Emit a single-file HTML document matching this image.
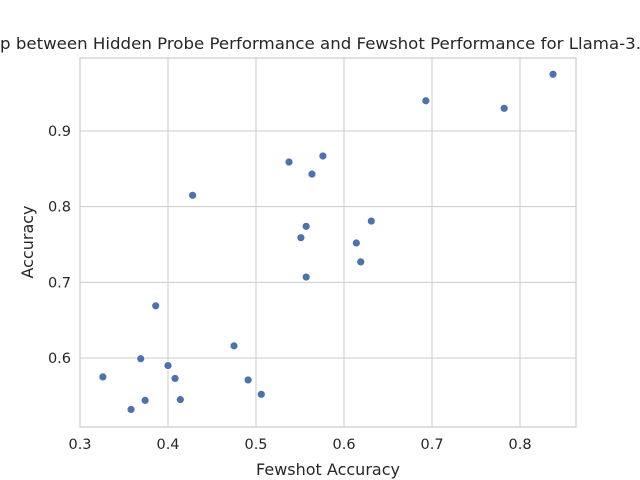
<!DOCTYPE html>
<html><head><meta charset="utf-8"><style>
html,body{margin:0;padding:0;background:#fff;}
svg{display:block;font-family:"DejaVu Sans","Liberation Sans",sans-serif;}
</style></head><body>
<svg id="chart" width="640" height="480">
<text x="0" y="49" font-size="16" fill="#262626" textLength="641" lengthAdjust="spacingAndGlyphs">p between Hidden Probe Performance and Fewshot Performance for Llama-3.</text>
<g id="grid"></g><g id="axes"></g><g id="points"></g>
<text x="328" y="475" font-size="16" text-anchor="middle" fill="#262626">Fewshot Accuracy</text>
<text transform="translate(33,242) rotate(-90)" font-size="16" text-anchor="middle" fill="#262626">Accuracy</text>
</svg>
<script>
const fewshot=[0.8375,0.693,0.782,0.576,0.5375,0.5636,0.428,0.631,0.557,0.551,0.614,0.619,0.557,0.386,0.475,0.369,0.400,0.326,0.408,0.491,0.506,0.374,0.414,0.358];
const accuracy=[0.975,0.940,0.930,0.867,0.859,0.843,0.815,0.781,0.774,0.759,0.752,0.727,0.707,0.669,0.616,0.599,0.590,0.575,0.573,0.571,0.552,0.544,0.545,0.532];
const xTicks=[0.3,0.4,0.5,0.6,0.7,0.8];
const yTicks=[0.6,0.7,0.8,0.9];
const L=80,R=576,T=58,B=427,xmin=0.3,xmax=0.8636,ymin=0.5088,ymax=0.9965;
const sx=v=>L+(v-xmin)/(xmax-xmin)*(R-L);
const sy=v=>B-(v-ymin)/(ymax-ymin)*(B-T);
const NS="http://www.w3.org/2000/svg";
function mk(tag,attrs,parent){const e=document.createElementNS(NS,tag);for(const k in attrs)e.setAttribute(k,attrs[k]);document.getElementById(parent).appendChild(e);return e;}
xTicks.forEach(t=>{
 const l=mk('line',{x1:sx(t),x2:sx(t),y1:T,y2:B,stroke:'#cccccc','stroke-width':1},'grid');
 
 
 const tx=mk('text',{x:sx(t),y:B+22,'font-size':14.5,'text-anchor':'middle',fill:'#262626'},'axes');
 tx.textContent=t.toFixed(1);
 
 
});
yTicks.forEach(t=>{
 const l=mk('line',{x1:L,x2:R,y1:sy(t),y2:sy(t),stroke:'#cccccc','stroke-width':1},'grid');
 
 
 const tx=mk('text',{x:L-9,y:sy(t)+5,'font-size':14.5,'text-anchor':'end',fill:'#262626'},'axes');
 tx.textContent=t.toFixed(1);
 
 
});
const frame=mk('rect',{x:L,y:T,width:R-L,height:B-T,fill:'none',stroke:'#cccccc','stroke-width':1.2},'axes');


fewshot.forEach((v,i)=>{
 const c=mk('circle',{cx:sx(v),cy:sy(accuracy[i]),r:3.9,fill:'#4c72b0',stroke:'#fff','stroke-width':0.6},'points');
 
 
});
</script>
</body></html>
